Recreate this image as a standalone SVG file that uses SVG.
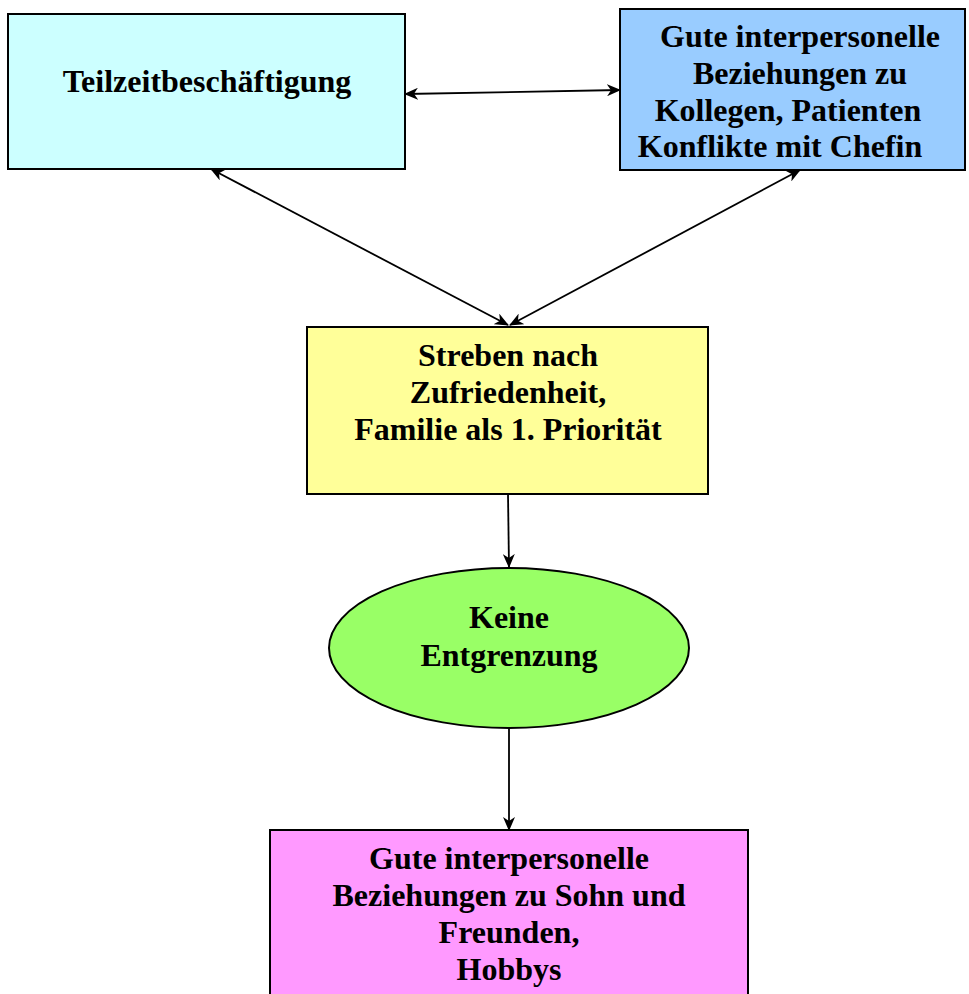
<svg xmlns="http://www.w3.org/2000/svg" width="969" height="994" viewBox="0 0 969 994">
  <style>
    .node { stroke: #000; stroke-width: 2; }
    .lbl { font-family: "Liberation Serif", "Times New Roman", serif; font-weight: bold; font-size: 32px; fill: #000; text-anchor: middle; }
    .conn { stroke: #000; stroke-width: 1.8; fill: none; }
  </style>
  <defs>
    <marker id="arrow" viewBox="0 0 14 12" refX="13" refY="6" markerWidth="14" markerHeight="12" markerUnits="userSpaceOnUse" orient="auto-start-reverse">
      <path d="M0,0 L14,6 L0,12 L4,6 z" fill="#000"/>
    </marker>
  </defs>
  <rect width="969" height="994" fill="#fff"/>

  <g id="connectors">
    <line class="conn" x1="405" y1="94" x2="620" y2="90" marker-start="url(#arrow)" marker-end="url(#arrow)"/>
    <line class="conn" x1="211" y1="169" x2="508" y2="325" marker-start="url(#arrow)" marker-end="url(#arrow)"/>
    <line class="conn" x1="800" y1="170" x2="510" y2="325" marker-start="url(#arrow)" marker-end="url(#arrow)"/>
    <line class="conn" x1="508" y1="494" x2="509" y2="567" marker-end="url(#arrow)"/>
    <line class="conn" x1="509" y1="728" x2="509" y2="830" marker-end="url(#arrow)"/>
  </g>

  <g id="teilzeit">
    <rect class="node" x="8" y="14" width="397" height="155" fill="#CCFFFF"/>
    <text class="lbl" x="207" y="92">Teilzeitbeschäftigung</text>
  </g>

  <g id="kollegen">
    <rect class="node" x="620" y="9" width="345" height="161" fill="#99CCFF"/>
    <text class="lbl" x="800" y="47">Gute interpersonelle</text>
    <text class="lbl" x="800" y="84">Beziehungen zu</text>
    <text class="lbl" x="788" y="121">Kollegen, Patienten</text>
    <text class="lbl" x="780" y="157">Konflikte mit Chefin</text>
  </g>

  <g id="zufriedenheit">
    <rect class="node" x="307" y="327" width="401" height="167" fill="#FFFF99"/>
    <text class="lbl" x="508" y="366">Streben nach</text>
    <text class="lbl" x="508" y="403">Zufriedenheit,</text>
    <text class="lbl" x="508" y="440">Familie als 1. Priorität</text>
  </g>

  <g id="entgrenzung">
    <ellipse class="node" cx="509" cy="648" rx="180" ry="80" fill="#99FF66"/>
    <text class="lbl" x="509" y="628">Keine</text>
    <text class="lbl" x="509" y="666">Entgrenzung</text>
  </g>

  <g id="privat">
    <rect class="node" x="270" y="830" width="478" height="175" fill="#FF99FF"/>
    <text class="lbl" x="509" y="869">Gute interpersonelle</text>
    <text class="lbl" x="509" y="906">Beziehungen zu Sohn und</text>
    <text class="lbl" x="509" y="943">Freunden,</text>
    <text class="lbl" x="509" y="980">Hobbys</text>
  </g>
</svg>
